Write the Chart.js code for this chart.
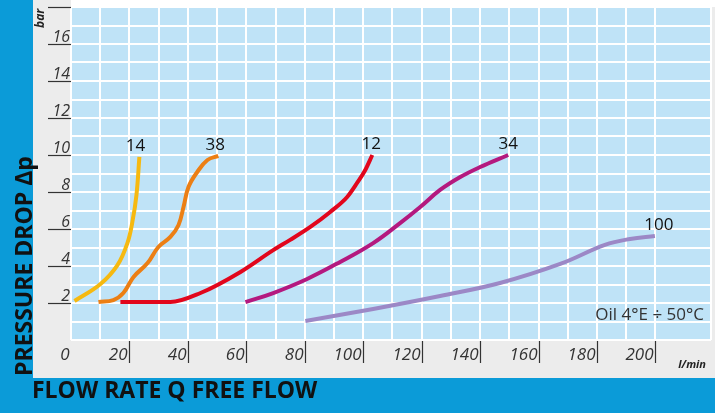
<!DOCTYPE html>
<html>
<head>
<meta charset="utf-8">
<script src="https://cdn.jsdelivr.net/npm/chart.js@4.4.1/dist/chart.umd.min.js"></script>
<style>
  html, body { margin: 0; padding: 0; background: #fff; }
  #wrap { width: 719px; height: 417px; }
</style>
</head>
<body>
<div id="wrap"><canvas id="chart" width="719" height="417"></canvas></div>
<script>
// curve data (flow l/min, pressure drop bar)
const seriesNames = ["14", "38", "12", "34", "100"];
const seriesColors = ["#f6b910", "#ec7f14", "#e2061c", "#b4197f", "#9c88c6"];

const flow14 = [1.2, 10.1, 15.9, 19.3, 21.0, 22.4, 23.4];
const drop14 = [2.11, 3.03, 4.05, 5.24, 6.38, 7.84, 9.9];

const flow38 = [9.4, 14.5, 17.9, 21.4, 26.2, 29.9, 34.0, 36.8, 38.5, 40.2, 43.2, 46.7, 50.4];
const drop38 = [2.05, 2.16, 2.54, 3.41, 4.16, 5.03, 5.57, 6.22, 7.19, 8.27, 9.08, 9.73, 9.95];

const flow12 = [16.9, 34.0, 44.3, 58.0, 69.2, 75.0, 81.9, 88.7, 94.5, 97.9, 100.7, 103.1];
const drop12 = [2.05, 2.05, 2.54, 3.68, 4.86, 5.41, 6.11, 6.92, 7.73, 8.49, 9.19, 10.0];

const flow34 = [59.7, 69.2, 80.8, 92.1, 103.4, 112.6, 119.5, 126.3, 133.2, 140.0, 149.6];
const drop34 = [2.05, 2.54, 3.3, 4.22, 5.24, 6.32, 7.19, 8.11, 8.81, 9.35, 10.0];

const flow100 = [80.2, 103.4, 126.3, 146.8, 167.4, 182.7, 191.3, 199.8];
const drop100 = [1.03, 1.68, 2.38, 3.08, 4.11, 5.14, 5.46, 5.62];

const xTickLabels = [0, 20, 40, 60, 80, 100, 120, 140, 160, 180, 200];
const yTickLabels = [2, 4, 6, 8, 10, 12, 14, 16];

const allFlows = [flow14, flow38, flow12, flow34, flow100];
const allDrops = [drop14, drop38, drop12, drop34, drop100];
// name label nudges (px) relative to the curve end
const nameShift = [-4, -3, -1, 0, 4];

function toPoints(xs, ys) {
  return xs.map((x, i) => ({ x: x, y: ys[i] }));
}

let datasets = [];
seriesNames.forEach((name, index) => {
  const flatStart = name === "12"; // red one has a flat run, keep it from dipping
  datasets = [...datasets, {
    label: name,
    data: toPoints(allFlows[index], allDrops[index]),
    borderColor: seriesColors[index],
    borderWidth: 4,
    pointRadius: 0,
    fill: false,
    tension: 0.4,
    cubicInterpolationMode: flatStart ? "monotone" : "default",
    borderCapStyle: "butt",
  }];
});

const BLUE = "#0b9bd8";

// panels, frame and plot background
const backdrop = {
  id: "backdrop",
  beforeDraw(chart) {
    const { ctx, chartArea: ca, width, height } = chart;
    ctx.save();
    ctx.fillStyle = "#ffffff";
    ctx.fillRect(0, 0, width, height);
    ctx.fillStyle = "#ececec";
    ctx.fillRect(33, 0, 682, 378);
    ctx.fillStyle = "#ffffff";
    ctx.fillRect(ca.left, 0, 719 - ca.left, ca.top);
    ctx.fillStyle = BLUE;
    ctx.fillRect(0, 0, 33, 378);
    ctx.fillRect(0, 378, 715, 35);
    ctx.fillStyle = "#bfe3f7";
    ctx.fillRect(ca.left, ca.top, ca.right - ca.left, ca.bottom - ca.top);
    ctx.restore();
  },
};

// tick labels, titles and curve names
const decorations = {
  id: "decorations",
  afterDraw(chart) {
    const { ctx, chartArea: ca } = chart;
    const xs = chart.scales.x, ys = chart.scales.y;
    ctx.save();
    ctx.fillStyle = "#333";
    ctx.strokeStyle = "#333";
    ctx.lineWidth = 1.2;

    // y ticks: label sitting on a short rule
    ctx.font = "italic 16px 'Open Sans'";
    ctx.textAlign = "right";
    ctx.textBaseline = "alphabetic";
    [...yTickLabels, 18].forEach((v) => {
      const py = Math.round(ys.getPixelForValue(v)) + 0.5;
      ctx.beginPath();
      ctx.moveTo(48, py);
      ctx.lineTo(ca.left, py);
      ctx.stroke();
      if (yTickLabels.includes(v)) ctx.fillText(String(v), ca.left - 1, py - 3);
    });

    // x ticks: label then a vertical bar
    ctx.font = "italic 17px 'Open Sans'";
    xTickLabels.forEach((v) => {
      const px = Math.round(xs.getPixelForValue(v)) + 0.5;
      if (v > 0) {
        ctx.beginPath();
        ctx.moveTo(px, ca.bottom + 1);
        ctx.lineTo(px, ca.bottom + 23);
        ctx.stroke();
      }
      ctx.fillText(String(v), px - 2, ca.bottom + 20);
    });

    // units
    ctx.font = "italic bold 11px 'Open Sans'";
    ctx.textAlign = "right";
    ctx.fillStyle = "#222";
    ctx.fillText("l/min", 706, 368);
    ctx.save();
    ctx.translate(44, 28);
    ctx.rotate(-Math.PI / 2);
    ctx.font = "italic bold 12px 'Open Sans'";
    ctx.textAlign = "left";
    ctx.fillText("bar", 0, 0);
    ctx.restore();

    // axis titles
    ctx.fillStyle = "#111";
    ctx.font = "bold 23px 'Open Sans'";
    ctx.textAlign = "left";
    ctx.fillText("FLOW RATE Q FREE FLOW", 32, 398);
    ctx.save();
    ctx.translate(32, 376);
    ctx.rotate(-Math.PI / 2);
    ctx.font = "bold 23px 'Open Sans'";
    ctx.fillText("PRESSURE DROP \u0394p", 0, 0);
    ctx.restore();

    // curve names at the end of each line
    ctx.font = "17px 'Open Sans'";
    ctx.textAlign = "center";
    ctx.fillStyle = "#111";
    seriesNames.forEach((name, i) => {
      const fx = allFlows[i][allFlows[i].length - 1];
      const fy = allDrops[i][allDrops[i].length - 1];
      ctx.fillText(name, xs.getPixelForValue(fx) + nameShift[i], ys.getPixelForValue(fy) - 6);
    });

    // oil note
    ctx.font = "17px 'Open Sans'";
    ctx.textAlign = "right";
    ctx.fillStyle = "#333";
    ctx.fillText("Oil 4\u00b0E \u00f7 50\u00b0C", ca.right - 7, 320);
    ctx.restore();
  },
};

const chart = new Chart(document.getElementById("chart"), {
  type: "line",
  data: { datasets: datasets },
  options: {
    responsive: false,
    animation: false,
    devicePixelRatio: 1,
    layout: { padding: { left: 71, right: 8, top: 7, bottom: 77 } },
    plugins: { legend: { display: false }, tooltip: { enabled: false } },
    scales: {
      x: {
        type: "linear",
        min: 0,
        max: 219,
        ticks: { display: false, stepSize: 10 },
        grid: { color: "#ffffff", lineWidth: 2, drawTicks: false },
        border: { display: false },
      },
      y: {
        type: "linear",
        min: 0,
        max: 18,
        ticks: { display: false, stepSize: 1 },
        grid: { color: "#ffffff", lineWidth: 2, drawTicks: false },
        border: { display: false },
      },
    },
  },
  plugins: [backdrop, decorations],
});
</script>
</body>
</html>
